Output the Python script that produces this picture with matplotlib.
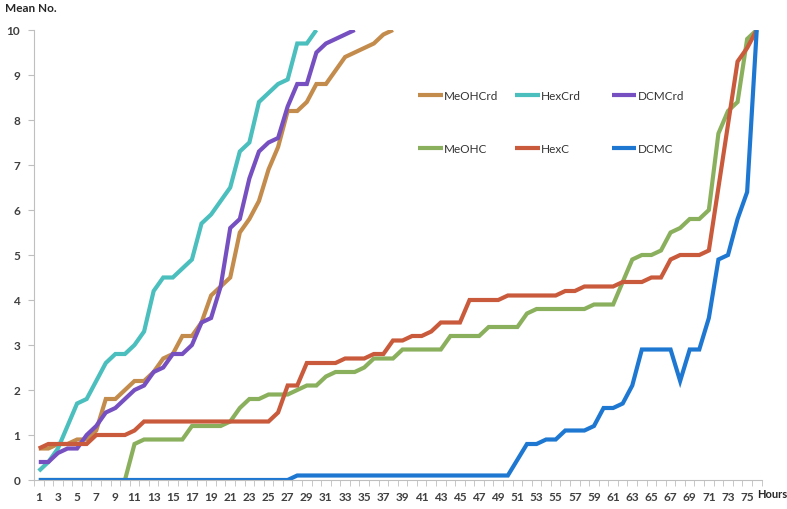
import matplotlib
matplotlib.use("Agg")
import matplotlib.pyplot as plt
from matplotlib.legend import Legend
import numpy as np

plt.rcParams['font.family'] = ['Lato', 'DejaVu Sans']

# Hours 1..76
hours = np.arange(1, 77)

# crude extracts (series end once they hit 10)
meohcrd = [0.7, 0.7, 0.8, 0.8, 0.9, 0.9, 1.1, 1.8, 1.8, 2.0,
           2.2, 2.2, 2.4, 2.7, 2.8, 3.2, 3.2, 3.5, 4.1, 4.3,
           4.5, 5.5, 5.8, 6.2, 6.9, 7.4, 8.2, 8.2, 8.4, 8.8,
           8.8, 9.1, 9.4, 9.5, 9.6, 9.7, 9.9, 10.0]
hexcrd = [0.2, 0.4, 0.7, 1.2, 1.7, 1.8, 2.2, 2.6, 2.8, 2.8,
          3.0, 3.3, 4.2, 4.5, 4.5, 4.7, 4.9, 5.7, 5.9, 6.2,
          6.5, 7.3, 7.5, 8.4, 8.6, 8.8, 8.9, 9.7, 9.7, 10.0]
dcmcrd = [0.4, 0.4, 0.6, 0.7, 0.7, 1.0, 1.2, 1.5, 1.6, 1.8,
          2.0, 2.1, 2.4, 2.5, 2.8, 2.8, 3.0, 3.5, 3.6, 4.3,
          5.6, 5.8, 6.7, 7.3, 7.5, 7.6, 8.3, 8.8, 8.8, 9.5,
          9.7, 9.8, 9.9, 10.0]

# controls
meohc = [0, 0, 0, 0, 0, 0, 0, 0, 0, 0,
         0.8, 0.9, 0.9, 0.9, 0.9, 0.9, 1.2, 1.2, 1.2, 1.2,
         1.3, 1.6, 1.8, 1.8, 1.9, 1.9, 1.9, 2.0, 2.1, 2.1,
         2.3, 2.4, 2.4, 2.4, 2.5, 2.7, 2.7, 2.7, 2.9, 2.9,
         2.9, 2.9, 2.9, 3.2, 3.2, 3.2, 3.2, 3.4, 3.4, 3.4,
         3.4, 3.7, 3.8, 3.8, 3.8, 3.8, 3.8, 3.8, 3.9, 3.9,
         3.9, 4.4, 4.9, 5.0, 5.0, 5.1, 5.5, 5.6, 5.8, 5.8,
         6.0, 7.7, 8.2, 8.4, 9.8, 10.0]
hexc = [0.7, 0.8, 0.8, 0.8, 0.8, 0.8, 1.0, 1.0, 1.0, 1.0,
        1.1, 1.3, 1.3, 1.3, 1.3, 1.3, 1.3, 1.3, 1.3, 1.3,
        1.3, 1.3, 1.3, 1.3, 1.3, 1.5, 2.1, 2.1, 2.6, 2.6,
        2.6, 2.6, 2.7, 2.7, 2.7, 2.8, 2.8, 3.1, 3.1, 3.2,
        3.2, 3.3, 3.5, 3.5, 3.5, 4.0, 4.0, 4.0, 4.0, 4.1,
        4.1, 4.1, 4.1, 4.1, 4.1, 4.2, 4.2, 4.3, 4.3, 4.3,
        4.3, 4.4, 4.4, 4.4, 4.5, 4.5, 4.9, 5.0, 5.0, 5.0,
        5.1, 6.5, 7.9, 9.3, 9.6, 10.0]
dcmc = [0, 0, 0, 0, 0, 0, 0, 0, 0, 0,
        0, 0, 0, 0, 0, 0, 0, 0, 0, 0,
        0, 0, 0, 0, 0, 0, 0, 0.1, 0.1, 0.1,
        0.1, 0.1, 0.1, 0.1, 0.1, 0.1, 0.1, 0.1, 0.1, 0.1,
        0.1, 0.1, 0.1, 0.1, 0.1, 0.1, 0.1, 0.1, 0.1, 0.1,
        0.45, 0.8, 0.8, 0.9, 0.9, 1.1, 1.1, 1.1, 1.2, 1.6,
        1.6, 1.7, 2.1, 2.9, 2.9, 2.9, 2.9, 2.2, 2.9, 2.9,
        3.6, 4.9, 5.0, 5.8, 6.4, 10.0]

series = [
    ("MeOHCrd", meohcrd, "#C38B4C"),
    ("HexCrd", hexcrd, "#4BBEBE"),
    ("DCMCrd", dcmcrd, "#7650C0"),
    ("MeOHC", meohc, "#8BB05D"),
    ("HexC", hexc, "#C95A3B"),
    ("DCMC", dcmc, "#1E78D2"),
]

fig = plt.figure(figsize=(7.87, 5.10), dpi=100)
ax = fig.add_axes([34 / 787, 1 - 481 / 510, (761.5 - 34) / 787, 450 / 510])

lines = {}
for name, vals, col in series:
    ln, = ax.plot(hours[:len(vals)], vals, color=col, lw=3, label=name,
                  solid_joinstyle='miter', solid_capstyle='butt')
    lines[name] = ln

ax.set_xlim(0.5, 76.5)
ax.set_ylim(0, 10)

for s in ['top', 'right']:
    ax.spines[s].set_visible(False)
ax.spines['left'].set_color('#BFBFBF')
ax.spines['bottom'].set_color('#BFBFBF')

ax.set_yticks(range(0, 11))
ax.tick_params(axis='y', length=4, color='#BFBFBF', labelsize=8.5,
               labelcolor='#404040', pad=6)
ax.set_xticks(range(1, 77, 2))
ax.set_xticks(np.arange(0.5, 77, 1), minor=True)
ax.tick_params(axis='x', which='major', length=0, labelsize=8.5,
               labelcolor='#404040', pad=8)
ax.tick_params(axis='x', which='minor', length=4, color='#BFBFBF')
for lab in ax.get_xticklabels() + ax.get_yticklabels():
    lab.set_fontweight('bold')

fig.text(5 / 787, 1 - 9 / 510, "Mean No.", fontsize=8.5, fontweight='bold',
         color='#262626', va='center', ha='left')
fig.text(757 / 787, 1 - 495 / 510, "Hours", fontsize=8, fontweight='bold',
         color='#262626', va='center', ha='left')

# legend: three columns, each its own legend so the columns sit where Excel put them
cols = [("MeOHCrd", "MeOHC", 0.528), ("HexCrd", "HexC", 0.661), ("DCMCrd", "DCMC", 0.794)]
for top, bot, xa in cols:
    leg = Legend(ax, [lines[top], lines[bot]], [top, bot], loc='center left',
                 bbox_to_anchor=(xa, 0.796), frameon=False, fontsize=8.5,
                 handlelength=2.1, handletextpad=0.1, labelspacing=3.55,
                 borderpad=0, borderaxespad=0)
    for t in leg.get_texts():
        t.set_color('#333333')
    ax.add_artist(leg)

fig.savefig("out.png", dpi=100)
